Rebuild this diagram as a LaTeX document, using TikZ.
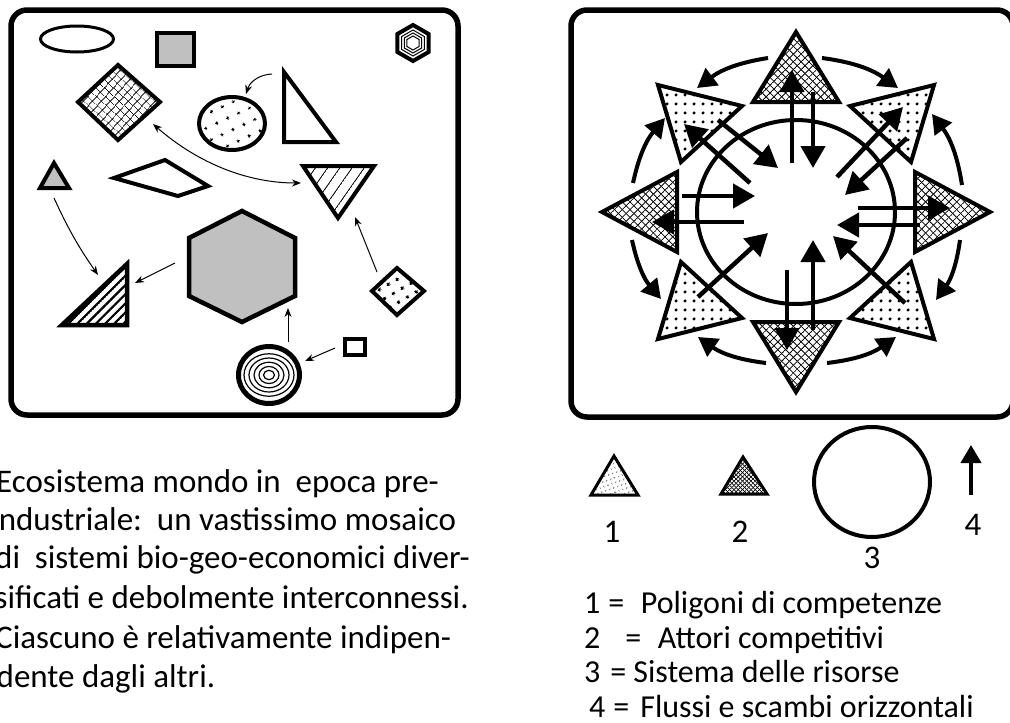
\documentclass[tikz,border=0pt]{standalone}
\usepackage{fontspec}
\setmainfont{Carlito}
\usetikzlibrary{arrows.meta,patterns.meta,calc}

\definecolor{shapegray}{RGB}{192,192,192}
\newcommand{\patkey}[1]{\pgfkeysvalueof{/pgf/pattern keys/#1}}

% line hatching, one line per tile, turned by angle
\tikzdeclarepattern{
  name=hatchlines,
  parameters={\patkey{size},\patkey{angle},\patkey{line width}},
  bounding box={(0pt,{-0.5*\patkey{line width}}) and (\patkey{size},{0.5*\patkey{line width}})},
  tile size={(\patkey{size},\patkey{size})},
  tile transformation={rotate=\patkey{angle}},
  defaults={size/.initial=5pt, angle/.initial=45, line width/.initial=.4pt},
  code={\draw[line width=\patkey{line width}] (-\patkey{size},0pt) -- (2*\patkey{size},0pt);}
}
% square grid, turned by angle
\tikzdeclarepattern{
  name=hatchgrid,
  parameters={\patkey{size},\patkey{angle},\patkey{line width}},
  bounding box={({-0.5*\patkey{line width}},{-0.5*\patkey{line width}}) and ({\patkey{size}-0.5*\patkey{line width}},{\patkey{size}-0.5*\patkey{line width}})},
  tile size={(\patkey{size},\patkey{size})},
  tile transformation={rotate=\patkey{angle}},
  defaults={size/.initial=5pt, angle/.initial=45, line width/.initial=.4pt},
  code={\draw[line width=\patkey{line width}] (-\patkey{size},0pt) -- (2*\patkey{size},0pt) (0pt,-\patkey{size}) -- (0pt,2*\patkey{size});}
}
% dots
\tikzdeclarepattern{
  name=dotfield,
  parameters={\patkey{size},\patkey{angle},\patkey{dot radius}},
  bounding box={(0pt,0pt) and (\patkey{size},\patkey{size})},
  tile size={(\patkey{size},\patkey{size})},
  tile transformation={rotate=\patkey{angle}},
  defaults={size/.initial=8pt, angle/.initial=0, dot radius/.initial=1pt},
  code={\fill ({0.5*\patkey{size}},{0.5*\patkey{size}}) circle (\patkey{dot radius});}
}

\begin{document}
\begin{tikzpicture}[x=1pt, y=-1pt,
  frame/.style={line width=5.5pt, rounded corners=16pt},
  shapeline/.style={line width=4pt},
  thinlink/.style={line width=1pt, -{Stealth[length=9pt,width=7pt]}},
  bigflow/.style={line width=4.5pt, -{Triangle[length=22pt,width=24pt]}},
  ringflow/.style={line width=4pt, -{Triangle[length=19pt,width=21pt]}},
  actorfill/.style={pattern={hatchgrid[size=5.5pt, angle=45, line width=0.8pt]}},
  skillfill/.style={pattern={dotfield[size=8.5pt, angle=0, dot radius=1.8pt]}},
  bodytext/.style={font=\fontsize{33}{39}\selectfont, anchor=base west, inner sep=0pt},
  keytext/.style={font=\fontsize{32}{34}\selectfont, anchor=base west, inner sep=0pt},
  keynum/.style={font=\fontsize{33}{39}\selectfont, anchor=base, inner sep=0pt}]

\useasboundingbox (0,0) rectangle (1010,723);

% left panel: the mosaic
\draw[frame] (11,10) rectangle (458,415);
\draw[line width=3pt] (77,39) ellipse [x radius=36.5, y radius=13];
\draw[shapeline, fill=shapegray] (157,33) rectangle (194,66);
\coordinate (hexsmall) at (413,43);
\draw[shapeline] (hexsmall) ++(90:18) \foreach \a in {150,210,...,390} { -- ($(hexsmall)+(\a:18)$) } -- cycle;
\foreach \r in {13,10,7}
  \draw[line width=1pt] (hexsmall) ++(90:\r) \foreach \a in {150,210,...,390} { -- ($(hexsmall)+(\a:\r)$) } -- cycle;
\draw[shapeline, pattern={hatchgrid[size=6.8pt, angle=-42, line width=0.8pt]}] (118,65) -- (160,102) -- (118,140) -- (78,102) -- cycle;
\draw[shapeline, pattern={dotfield[size=12pt, angle=25, dot radius=1.8pt]}] (232,123.5) ellipse [x radius=33, y radius=26.5];
\draw[shapeline] (284,72) -- (284,142) -- (336,142) -- cycle;
\draw[shapeline, fill=shapegray] (54,163) -- (69,188) -- (40,188) -- cycle;
\draw[shapeline] (114,178) -- (165,160) -- (208,186) -- (178,196) -- cycle;
\draw[shapeline, pattern={hatchlines[size=10pt, angle=55, line width=0.9pt]}] (303,166) -- (374,166) -- (338,218) -- cycle;
\draw[line width=4.5pt, fill=shapegray] (242,211) -- (295,238) -- (295,296) -- (242,322) -- (189,296) -- (189,238) -- cycle;
\draw[line width=4.5pt, pattern={hatchlines[size=6.5pt, angle=45, line width=2.2pt]}] (127,264) -- (127,325) -- (62,325) -- cycle;
\draw[shapeline, pattern={dotfield[size=10pt, angle=30, dot radius=1.8pt]}] (397,268) -- (424,291) -- (397,315) -- (372,291) -- cycle;
\coordinate (rings) at (269,375);
\draw[line width=5pt] (rings) ellipse [x radius=30.5, y radius=28.5];
\foreach \r in {25,20,15,10,5.5}
  \draw[line width=1.2pt] (rings) ellipse [x radius=\r, y radius=0.85*\r];
\draw[shapeline] (345,339) rectangle (365,355);

% left panel: links
\coordinate (triwhite) at (272,74);  \coordinate (dotcirc) at (246,94);
\coordinate (griddiam) at (153,124); \coordinate (trihatch) at (301,183);
\coordinate (trigray) at (54,198);   \coordinate (tristripe) at (98,275);
\coordinate (hexbig) at (175,263);   \coordinate (tristripeB) at (135,283);
\coordinate (dotdiam) at (377,272);  \coordinate (trihatchB) at (355,217);
\coordinate (ringtop) at (288,342);  \coordinate (hexbigB) at (288,308);
\coordinate (sqsmall) at (335,348);  \coordinate (ringside) at (305,361);
\draw[thinlink] (triwhite) to[bend right=35] (dotcirc);
\draw[thinlink, {Stealth[length=9pt,width=7pt]}-{Stealth[length=9pt,width=7pt]}] (griddiam) .. controls (200,165) and (250,183) .. (trihatch);
\draw[thinlink] (trigray) to[bend right=5] (tristripe);
\draw[thinlink] (hexbig) -- (tristripeB);
\draw[thinlink] (dotdiam) -- (trihatchB);
\draw[thinlink] (ringtop) -- (hexbigB);
\draw[thinlink] (sqsmall) -- (ringside);

% right panel: the star
\draw[frame] (571,10) rectangle (1013,417);
\draw[shapeline, actorfill] (796,32) -- (839,102) -- (753,102) -- cycle;
\draw[shapeline, skillfill] (934,85) -- (911,162) -- (850,106) -- cycle;
\draw[shapeline, actorfill] (990,212) -- (915,252) -- (915,172) -- cycle;
\draw[shapeline, skillfill] (934,339) -- (850,318) -- (911,262) -- cycle;
\draw[shapeline, actorfill] (796,392) -- (753,322) -- (839,322) -- cycle;
\draw[shapeline, skillfill] (658,339) -- (681,262) -- (742,318) -- cycle;
\draw[shapeline, actorfill] (602,212) -- (677,172) -- (677,252) -- cycle;
\draw[shapeline, skillfill] (658,85) -- (742,106) -- (681,162) -- cycle;
\coordinate (hub) at (796,212);
\draw[shapeline] (hub) ellipse [x radius=99, y radius=92];

\coordinate (nA) at (792,163); \coordinate (nB) at (792,70);
\coordinate (nC) at (813,92);  \coordinate (nD) at (813,168);
\coordinate (sA) at (787,270); \coordinate (sB) at (787,350);
\coordinate (sC) at (813,330); \coordinate (sD) at (813,240);
\coordinate (wA) at (682,196); \coordinate (wB) at (755,196);
\coordinate (wC) at (744,222); \coordinate (wD) at (652,222);
\coordinate (eA) at (858,208); \coordinate (eB) at (950,208);
\coordinate (eC) at (920,225); \coordinate (eD) at (837,225);
\coordinate (nwA) at (750,183); \coordinate (nwB) at (684,124);
\coordinate (nwC) at (718,120); \coordinate (nwD) at (778,168);
\coordinate (neA) at (837,177); \coordinate (neB) at (903,107);
\coordinate (neC) at (907,138); \coordinate (neD) at (845,195);
\coordinate (seA) at (905,303); \coordinate (seB) at (833,236);
\coordinate (swA) at (698,297); \coordinate (swB) at (768,233);
\draw[bigflow] (nA) -- (nB);
\draw[bigflow] (nC) -- (nD);
\draw[bigflow] (sA) -- (sB);
\draw[bigflow] (sC) -- (sD);
\draw[bigflow] (wA) -- (wB);
\draw[bigflow] (wC) -- (wD);
\draw[bigflow] (eA) -- (eB);
\draw[bigflow] (eC) -- (eD);
\draw[bigflow] (nwA) -- (nwB);
\draw[bigflow] (nwC) -- (nwD);
\draw[bigflow] (neA) -- (neB);
\draw[bigflow] (neC) -- (neD);
\draw[bigflow] (seA) -- (seB);
\draw[bigflow] (swA) -- (swB);

% outer ring of arrows
\coordinate (aA) at (768,58);  \coordinate (aB) at (697,88);
\coordinate (aC) at (822,58);  \coordinate (aD) at (898,88);
\coordinate (aE) at (633,183); \coordinate (aF) at (665,118);
\coordinate (aG) at (962,185); \coordinate (aH) at (932,114);
\coordinate (aI) at (632,240); \coordinate (aJ) at (661,299);
\coordinate (aK) at (960,240); \coordinate (aL) at (936,300);
\coordinate (aM) at (766,363); \coordinate (aN) at (698,337);
\coordinate (aO) at (827,363); \coordinate (aP) at (896,337);
\draw[ringflow] (aA) to[bend right=14] (aB);
\draw[ringflow] (aC) to[bend left=14] (aD);
\draw[ringflow] (aE) to[bend left=14] (aF);
\draw[ringflow] (aG) to[bend right=14] (aH);
\draw[ringflow] (aI) to[bend right=14] (aJ);
\draw[ringflow] (aK) to[bend left=14] (aL);
\draw[ringflow] (aM) to[bend left=14] (aN);
\draw[ringflow] (aO) to[bend right=14] (aP);

% legend
\draw[line width=3pt, pattern={dotfield[size=4.5pt, angle=20, dot radius=0.8pt]}] (614,456) -- (638,495) -- (591,495) -- cycle;
\draw[line width=3pt, pattern={hatchgrid[size=3pt, angle=45, line width=0.7pt]}] (743,457) -- (767,494) -- (721,494) -- cycle;
\draw[shapeline] (872,482) ellipse [x radius=58, y radius=55];
\coordinate (keyfoot) at (971,495); \coordinate (keyhead) at (971,445);
\draw[line width=4pt, -{Triangle[length=18pt,width=20pt]}] (keyfoot) -- (keyhead);
\node[keynum] (numA) at (612,542) {1};
\node[keynum] (numB) at (740,542) {2};
\node[keynum] (numC) at (872,568) {3};
\node[keynum] (numD) at (973,535) {4};
\node[keytext] (keyA) at (584,613) {1\hspace{8pt}=\hspace{16.5pt}Poligoni di competenze};
\node[keytext] (keyB) at (584,648) {2\hspace{25pt}=\hspace{16.5pt}Attori competitivi};
\node[keytext] (keyC) at (584,682) {3\hspace{10pt}=\hspace{7pt}Sistema delle risorse};
\node[keytext] (keyD) at (589,717) {4\hspace{8pt}=\hspace{11pt}Flussi e scambi orizzontali};

% caption of the left panel
\node[bodytext] (descA) at (-4,492) {Ecosistema mondo in\ \ epoca pre-};
\node[bodytext] (descB) at (-9,530) {industriale:\ \ un vastissimo mosaico};
\node[bodytext] (descC) at (-5,568) {di\ \ sistemi bio-geo-economici diver-};
\node[bodytext] (descD) at (-5.5,608) {sificati e debolmente interconnessi.};
\node[bodytext] (descE) at (-5,648) {Ciascuno è relativamente indipen-};
\node[bodytext] (descF) at (-3.5,687) {dente dagli altri.};
\end{tikzpicture}
\end{document}
